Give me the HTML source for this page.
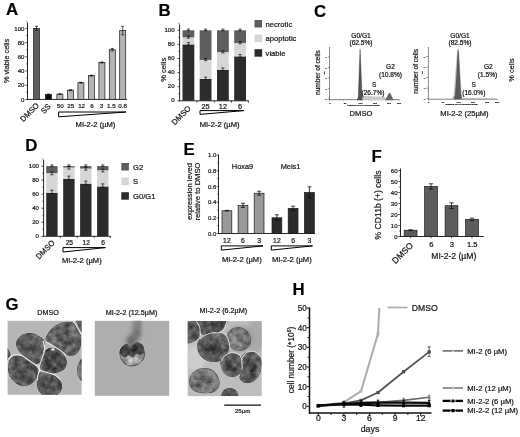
<!DOCTYPE html>
<html lang="en"><head><meta charset="utf-8"><title>Figure</title>
<style>
html,body{margin:0;padding:0;background:#fff;}
body{width:520px;height:437px;overflow:hidden;}
svg{display:block;filter:blur(0.35px);font-family:'Liberation Sans', sans-serif;}
text{stroke:#222;stroke-width:0.22px;}
</style></head><body>
<svg width="520" height="437" viewBox="0 0 520 437">
<rect width="520" height="437" fill="#fff"/>
<text x="6.00" y="15.20" font-size="16.8" text-anchor="start" fill="#000" font-weight="bold">A</text>
<line x1="27.50" y1="22.50" x2="27.50" y2="99.80" stroke="#111" stroke-width="0.9"/>
<line x1="27.10" y1="99.40" x2="127.00" y2="99.40" stroke="#111" stroke-width="0.9"/>
<line x1="25.30" y1="99.40" x2="27.50" y2="99.40" stroke="#111" stroke-width="0.7"/>
<text x="24.50" y="101.58" font-size="6.1" text-anchor="end" fill="#111">0</text>
<line x1="25.30" y1="85.20" x2="27.50" y2="85.20" stroke="#111" stroke-width="0.7"/>
<text x="24.50" y="87.38" font-size="6.1" text-anchor="end" fill="#111">20</text>
<line x1="25.30" y1="71.00" x2="27.50" y2="71.00" stroke="#111" stroke-width="0.7"/>
<text x="24.50" y="73.18" font-size="6.1" text-anchor="end" fill="#111">40</text>
<line x1="25.30" y1="56.80" x2="27.50" y2="56.80" stroke="#111" stroke-width="0.7"/>
<text x="24.50" y="58.98" font-size="6.1" text-anchor="end" fill="#111">60</text>
<line x1="25.30" y1="42.60" x2="27.50" y2="42.60" stroke="#111" stroke-width="0.7"/>
<text x="24.50" y="44.78" font-size="6.1" text-anchor="end" fill="#111">80</text>
<line x1="25.30" y1="28.40" x2="27.50" y2="28.40" stroke="#111" stroke-width="0.7"/>
<text x="24.50" y="30.58" font-size="6.1" text-anchor="end" fill="#111">100</text>
<line x1="26.20" y1="92.30" x2="27.50" y2="92.30" stroke="#111" stroke-width="0.6"/>
<line x1="26.20" y1="78.10" x2="27.50" y2="78.10" stroke="#111" stroke-width="0.6"/>
<line x1="26.20" y1="63.90" x2="27.50" y2="63.90" stroke="#111" stroke-width="0.6"/>
<line x1="26.20" y1="49.70" x2="27.50" y2="49.70" stroke="#111" stroke-width="0.6"/>
<line x1="26.20" y1="35.50" x2="27.50" y2="35.50" stroke="#111" stroke-width="0.6"/>
<line x1="26.20" y1="21.30" x2="27.50" y2="21.30" stroke="#111" stroke-width="0.6"/>
<text transform="translate(6.80 61.00) rotate(-90)" x="0" y="2.61" font-size="7.3" text-anchor="middle" fill="#222">% viable cells</text>
<rect x="33.50" y="28.40" width="6.00" height="71.00" fill="#5e5e5e" stroke="#1a1a1a" stroke-width="0.7"/>
<line x1="36.50" y1="26.27" x2="36.50" y2="30.53" stroke="#111" stroke-width="0.7"/>
<line x1="35.00" y1="26.27" x2="38.00" y2="26.27" stroke="#111" stroke-width="0.7"/>
<line x1="35.00" y1="30.53" x2="38.00" y2="30.53" stroke="#111" stroke-width="0.7"/>
<rect x="45.40" y="94.43" width="6.00" height="4.97" fill="#0a0a0a" stroke="#1a1a1a" stroke-width="0.7"/>
<line x1="48.40" y1="94.00" x2="48.40" y2="94.86" stroke="#111" stroke-width="0.7"/>
<line x1="46.90" y1="94.00" x2="49.90" y2="94.00" stroke="#111" stroke-width="0.7"/>
<line x1="46.90" y1="94.86" x2="49.90" y2="94.86" stroke="#111" stroke-width="0.7"/>
<rect x="56.90" y="94.08" width="6.00" height="5.32" fill="#b4b4b4" stroke="#1a1a1a" stroke-width="0.7"/>
<line x1="59.90" y1="93.72" x2="59.90" y2="94.43" stroke="#111" stroke-width="0.7"/>
<line x1="58.40" y1="93.72" x2="61.40" y2="93.72" stroke="#111" stroke-width="0.7"/>
<line x1="58.40" y1="94.43" x2="61.40" y2="94.43" stroke="#111" stroke-width="0.7"/>
<text x="60.20" y="108.12" font-size="6.2" text-anchor="middle" fill="#111">50</text>
<rect x="67.60" y="90.17" width="6.00" height="9.23" fill="#b4b4b4" stroke="#1a1a1a" stroke-width="0.7"/>
<line x1="70.60" y1="89.67" x2="70.60" y2="90.67" stroke="#111" stroke-width="0.7"/>
<line x1="69.10" y1="89.67" x2="72.10" y2="89.67" stroke="#111" stroke-width="0.7"/>
<line x1="69.10" y1="90.67" x2="72.10" y2="90.67" stroke="#111" stroke-width="0.7"/>
<text x="70.80" y="108.12" font-size="6.2" text-anchor="middle" fill="#111">25</text>
<rect x="77.90" y="82.72" width="6.00" height="16.68" fill="#b4b4b4" stroke="#1a1a1a" stroke-width="0.7"/>
<line x1="80.90" y1="82.29" x2="80.90" y2="83.14" stroke="#111" stroke-width="0.7"/>
<line x1="79.40" y1="82.29" x2="82.40" y2="82.29" stroke="#111" stroke-width="0.7"/>
<line x1="79.40" y1="83.14" x2="82.40" y2="83.14" stroke="#111" stroke-width="0.7"/>
<text x="81.60" y="108.12" font-size="6.2" text-anchor="middle" fill="#111">12</text>
<rect x="88.40" y="75.62" width="6.00" height="23.79" fill="#b4b4b4" stroke="#1a1a1a" stroke-width="0.7"/>
<line x1="91.40" y1="75.12" x2="91.40" y2="76.11" stroke="#111" stroke-width="0.7"/>
<line x1="89.90" y1="75.12" x2="92.90" y2="75.12" stroke="#111" stroke-width="0.7"/>
<line x1="89.90" y1="76.11" x2="92.90" y2="76.11" stroke="#111" stroke-width="0.7"/>
<text x="92.00" y="108.12" font-size="6.2" text-anchor="middle" fill="#111">6</text>
<rect x="98.90" y="62.48" width="6.00" height="36.92" fill="#b4b4b4" stroke="#1a1a1a" stroke-width="0.7"/>
<line x1="101.90" y1="61.98" x2="101.90" y2="62.98" stroke="#111" stroke-width="0.7"/>
<line x1="100.40" y1="61.98" x2="103.40" y2="61.98" stroke="#111" stroke-width="0.7"/>
<line x1="100.40" y1="62.98" x2="103.40" y2="62.98" stroke="#111" stroke-width="0.7"/>
<text x="101.50" y="108.12" font-size="6.2" text-anchor="middle" fill="#111">3</text>
<rect x="109.30" y="49.70" width="6.00" height="49.70" fill="#b4b4b4" stroke="#1a1a1a" stroke-width="0.7"/>
<line x1="112.30" y1="48.42" x2="112.30" y2="50.98" stroke="#111" stroke-width="0.7"/>
<line x1="110.80" y1="48.42" x2="113.80" y2="48.42" stroke="#111" stroke-width="0.7"/>
<line x1="110.80" y1="50.98" x2="113.80" y2="50.98" stroke="#111" stroke-width="0.7"/>
<text x="111.30" y="108.12" font-size="6.2" text-anchor="middle" fill="#111">1.5</text>
<rect x="119.70" y="30.53" width="6.00" height="68.87" fill="#b4b4b4" stroke="#1a1a1a" stroke-width="0.7"/>
<line x1="122.70" y1="26.27" x2="122.70" y2="34.79" stroke="#111" stroke-width="0.7"/>
<line x1="121.20" y1="26.27" x2="124.20" y2="26.27" stroke="#111" stroke-width="0.7"/>
<line x1="121.20" y1="34.79" x2="124.20" y2="34.79" stroke="#111" stroke-width="0.7"/>
<text x="122.60" y="108.12" font-size="6.2" text-anchor="middle" fill="#111">0.8</text>
<text transform="translate(37.60 104.00) rotate(-45)" x="0" y="2.76" font-size="7.7" text-anchor="end" fill="#111">DMSO</text>
<text transform="translate(49.20 105.00) rotate(-45)" x="0" y="2.76" font-size="7.7" text-anchor="end" fill="#111">SS</text>
<path d="M58.60 112.00 L126.00 112.00 L58.60 116.80 Z" fill="#fff" stroke="#000" stroke-width="1.0" stroke-linejoin="miter"/>
<text x="95.50" y="126.92" font-size="7.6" text-anchor="middle" fill="#111">MI-2-2 (µM)</text>
<text x="158.60" y="15.50" font-size="16.8" text-anchor="start" fill="#000" font-weight="bold">B</text>
<line x1="179.60" y1="24.50" x2="179.60" y2="101.20" stroke="#111" stroke-width="0.9"/>
<line x1="179.20" y1="100.80" x2="248.80" y2="100.80" stroke="#111" stroke-width="0.9"/>
<line x1="177.40" y1="100.80" x2="179.60" y2="100.80" stroke="#111" stroke-width="0.7"/>
<text x="174.60" y="102.28" font-size="6.1" text-anchor="end" fill="#111">0</text>
<line x1="177.40" y1="86.70" x2="179.60" y2="86.70" stroke="#111" stroke-width="0.7"/>
<text x="174.60" y="88.18" font-size="6.1" text-anchor="end" fill="#111">20</text>
<line x1="177.40" y1="72.60" x2="179.60" y2="72.60" stroke="#111" stroke-width="0.7"/>
<text x="174.60" y="74.08" font-size="6.1" text-anchor="end" fill="#111">40</text>
<line x1="177.40" y1="58.50" x2="179.60" y2="58.50" stroke="#111" stroke-width="0.7"/>
<text x="174.60" y="59.98" font-size="6.1" text-anchor="end" fill="#111">60</text>
<line x1="177.40" y1="44.40" x2="179.60" y2="44.40" stroke="#111" stroke-width="0.7"/>
<text x="174.60" y="45.88" font-size="6.1" text-anchor="end" fill="#111">80</text>
<line x1="177.40" y1="30.30" x2="179.60" y2="30.30" stroke="#111" stroke-width="0.7"/>
<text x="174.60" y="31.78" font-size="6.1" text-anchor="end" fill="#111">100</text>
<line x1="178.30" y1="93.75" x2="179.60" y2="93.75" stroke="#111" stroke-width="0.6"/>
<line x1="178.30" y1="79.65" x2="179.60" y2="79.65" stroke="#111" stroke-width="0.6"/>
<line x1="178.30" y1="65.55" x2="179.60" y2="65.55" stroke="#111" stroke-width="0.6"/>
<line x1="178.30" y1="51.45" x2="179.60" y2="51.45" stroke="#111" stroke-width="0.6"/>
<line x1="178.30" y1="37.35" x2="179.60" y2="37.35" stroke="#111" stroke-width="0.6"/>
<line x1="178.30" y1="23.25" x2="179.60" y2="23.25" stroke="#111" stroke-width="0.6"/>
<text transform="translate(163.00 69.80) rotate(-90)" x="0" y="2.72" font-size="7.6" text-anchor="middle" fill="#222">% cells</text>
<rect x="182.50" y="44.40" width="11.80" height="56.40" fill="#2b2b2b"/>
<rect x="182.50" y="37.35" width="11.80" height="7.05" fill="#d6d6d6"/>
<rect x="182.50" y="30.30" width="11.80" height="7.05" fill="#5e5e5e"/>
<line x1="188.40" y1="42.60" x2="188.40" y2="45.20" stroke="#111" stroke-width="0.7"/>
<line x1="186.80" y1="42.60" x2="190.00" y2="42.60" stroke="#111" stroke-width="0.7"/>
<line x1="186.80" y1="45.20" x2="190.00" y2="45.20" stroke="#111" stroke-width="0.7"/>
<line x1="188.40" y1="35.95" x2="188.40" y2="38.15" stroke="#111" stroke-width="0.7"/>
<line x1="186.80" y1="35.95" x2="190.00" y2="35.95" stroke="#111" stroke-width="0.7"/>
<line x1="186.80" y1="38.15" x2="190.00" y2="38.15" stroke="#111" stroke-width="0.7"/>
<line x1="188.40" y1="29.10" x2="188.40" y2="30.80" stroke="#111" stroke-width="0.7"/>
<line x1="186.80" y1="29.10" x2="190.00" y2="29.10" stroke="#111" stroke-width="0.7"/>
<line x1="186.80" y1="30.80" x2="190.00" y2="30.80" stroke="#111" stroke-width="0.7"/>
<rect x="199.70" y="78.94" width="11.80" height="21.86" fill="#2b2b2b"/>
<rect x="199.70" y="59.91" width="11.80" height="19.04" fill="#d6d6d6"/>
<rect x="199.70" y="30.30" width="11.80" height="29.61" fill="#5e5e5e"/>
<line x1="205.60" y1="77.14" x2="205.60" y2="79.74" stroke="#111" stroke-width="0.7"/>
<line x1="204.00" y1="77.14" x2="207.20" y2="77.14" stroke="#111" stroke-width="0.7"/>
<line x1="204.00" y1="79.74" x2="207.20" y2="79.74" stroke="#111" stroke-width="0.7"/>
<line x1="205.60" y1="58.51" x2="205.60" y2="60.71" stroke="#111" stroke-width="0.7"/>
<line x1="204.00" y1="58.51" x2="207.20" y2="58.51" stroke="#111" stroke-width="0.7"/>
<line x1="204.00" y1="60.71" x2="207.20" y2="60.71" stroke="#111" stroke-width="0.7"/>
<line x1="205.60" y1="29.10" x2="205.60" y2="30.80" stroke="#111" stroke-width="0.7"/>
<line x1="204.00" y1="29.10" x2="207.20" y2="29.10" stroke="#111" stroke-width="0.7"/>
<line x1="204.00" y1="30.80" x2="207.20" y2="30.80" stroke="#111" stroke-width="0.7"/>
<text x="205.60" y="108.55" font-size="7.4" text-anchor="middle" fill="#111">25</text>
<rect x="217.00" y="69.78" width="11.80" height="31.02" fill="#2b2b2b"/>
<rect x="217.00" y="52.16" width="11.80" height="17.62" fill="#d6d6d6"/>
<rect x="217.00" y="30.30" width="11.80" height="21.86" fill="#5e5e5e"/>
<line x1="222.90" y1="67.98" x2="222.90" y2="70.58" stroke="#111" stroke-width="0.7"/>
<line x1="221.30" y1="67.98" x2="224.50" y2="67.98" stroke="#111" stroke-width="0.7"/>
<line x1="221.30" y1="70.58" x2="224.50" y2="70.58" stroke="#111" stroke-width="0.7"/>
<line x1="222.90" y1="50.76" x2="222.90" y2="52.95" stroke="#111" stroke-width="0.7"/>
<line x1="221.30" y1="50.76" x2="224.50" y2="50.76" stroke="#111" stroke-width="0.7"/>
<line x1="221.30" y1="52.95" x2="224.50" y2="52.95" stroke="#111" stroke-width="0.7"/>
<line x1="222.90" y1="29.10" x2="222.90" y2="30.80" stroke="#111" stroke-width="0.7"/>
<line x1="221.30" y1="29.10" x2="224.50" y2="29.10" stroke="#111" stroke-width="0.7"/>
<line x1="221.30" y1="30.80" x2="224.50" y2="30.80" stroke="#111" stroke-width="0.7"/>
<text x="222.90" y="108.55" font-size="7.4" text-anchor="middle" fill="#111">12</text>
<rect x="234.20" y="56.38" width="11.80" height="44.41" fill="#2b2b2b"/>
<rect x="234.20" y="42.99" width="11.80" height="13.39" fill="#d6d6d6"/>
<rect x="234.20" y="30.30" width="11.80" height="12.69" fill="#5e5e5e"/>
<line x1="240.10" y1="54.59" x2="240.10" y2="57.18" stroke="#111" stroke-width="0.7"/>
<line x1="238.50" y1="54.59" x2="241.70" y2="54.59" stroke="#111" stroke-width="0.7"/>
<line x1="238.50" y1="57.18" x2="241.70" y2="57.18" stroke="#111" stroke-width="0.7"/>
<line x1="240.10" y1="41.59" x2="240.10" y2="43.79" stroke="#111" stroke-width="0.7"/>
<line x1="238.50" y1="41.59" x2="241.70" y2="41.59" stroke="#111" stroke-width="0.7"/>
<line x1="238.50" y1="43.79" x2="241.70" y2="43.79" stroke="#111" stroke-width="0.7"/>
<line x1="240.10" y1="29.10" x2="240.10" y2="30.80" stroke="#111" stroke-width="0.7"/>
<line x1="238.50" y1="29.10" x2="241.70" y2="29.10" stroke="#111" stroke-width="0.7"/>
<line x1="238.50" y1="30.80" x2="241.70" y2="30.80" stroke="#111" stroke-width="0.7"/>
<text x="240.10" y="108.55" font-size="7.4" text-anchor="middle" fill="#111">6</text>
<text transform="translate(189.40 106.90) rotate(-45)" x="0" y="2.79" font-size="7.8" text-anchor="end" fill="#111">DMSO</text>
<line x1="196.90" y1="100.80" x2="196.90" y2="102.60" stroke="#111" stroke-width="0.8"/>
<line x1="214.40" y1="100.80" x2="214.40" y2="102.60" stroke="#111" stroke-width="0.8"/>
<line x1="231.50" y1="100.80" x2="231.50" y2="102.60" stroke="#111" stroke-width="0.8"/>
<line x1="248.40" y1="100.80" x2="248.40" y2="102.60" stroke="#111" stroke-width="0.8"/>
<path d="M200.00 110.60 L243.80 110.60 L200.00 114.40 Z" fill="#fff" stroke="#000" stroke-width="1.0" stroke-linejoin="miter"/>
<text x="219.60" y="126.52" font-size="7.6" text-anchor="middle" fill="#111">MI-2-2 (µM)</text>
<rect x="254.50" y="20.00" width="7.60" height="7.50" fill="#5e5e5e"/>
<text x="265.60" y="26.62" font-size="7.6" text-anchor="start" fill="#111">necrotic</text>
<rect x="254.50" y="34.60" width="7.60" height="7.50" fill="#d6d6d6"/>
<text x="265.60" y="41.22" font-size="7.6" text-anchor="start" fill="#111">apoptotic</text>
<rect x="254.50" y="49.20" width="7.60" height="7.50" fill="#2b2b2b"/>
<text x="265.60" y="55.82" font-size="7.6" text-anchor="start" fill="#111">viable</text>
<text x="314.00" y="16.60" font-size="16.8" text-anchor="start" fill="#000" font-weight="bold">C</text>
<line x1="329.50" y1="47.00" x2="329.50" y2="99.90" stroke="#3a3a3a" stroke-width="0.6"/>
<line x1="329.20" y1="99.60" x2="399.50" y2="99.60" stroke="#3a3a3a" stroke-width="0.6"/>
<line x1="329.50" y1="99.60" x2="329.50" y2="100.80" stroke="#444" stroke-width="0.35"/>
<line x1="332.30" y1="99.60" x2="332.30" y2="100.30" stroke="#444" stroke-width="0.35"/>
<line x1="335.10" y1="99.60" x2="335.10" y2="100.30" stroke="#444" stroke-width="0.35"/>
<line x1="337.90" y1="99.60" x2="337.90" y2="100.30" stroke="#444" stroke-width="0.35"/>
<line x1="340.70" y1="99.60" x2="340.70" y2="100.30" stroke="#444" stroke-width="0.35"/>
<line x1="343.50" y1="99.60" x2="343.50" y2="100.80" stroke="#444" stroke-width="0.35"/>
<line x1="346.30" y1="99.60" x2="346.30" y2="100.30" stroke="#444" stroke-width="0.35"/>
<line x1="349.10" y1="99.60" x2="349.10" y2="100.30" stroke="#444" stroke-width="0.35"/>
<line x1="351.90" y1="99.60" x2="351.90" y2="100.30" stroke="#444" stroke-width="0.35"/>
<line x1="354.70" y1="99.60" x2="354.70" y2="100.30" stroke="#444" stroke-width="0.35"/>
<line x1="357.50" y1="99.60" x2="357.50" y2="100.80" stroke="#444" stroke-width="0.35"/>
<line x1="360.30" y1="99.60" x2="360.30" y2="100.30" stroke="#444" stroke-width="0.35"/>
<line x1="363.10" y1="99.60" x2="363.10" y2="100.30" stroke="#444" stroke-width="0.35"/>
<line x1="365.90" y1="99.60" x2="365.90" y2="100.30" stroke="#444" stroke-width="0.35"/>
<line x1="368.70" y1="99.60" x2="368.70" y2="100.30" stroke="#444" stroke-width="0.35"/>
<line x1="371.50" y1="99.60" x2="371.50" y2="100.80" stroke="#444" stroke-width="0.35"/>
<line x1="374.30" y1="99.60" x2="374.30" y2="100.30" stroke="#444" stroke-width="0.35"/>
<line x1="377.10" y1="99.60" x2="377.10" y2="100.30" stroke="#444" stroke-width="0.35"/>
<line x1="379.90" y1="99.60" x2="379.90" y2="100.30" stroke="#444" stroke-width="0.35"/>
<line x1="382.70" y1="99.60" x2="382.70" y2="100.30" stroke="#444" stroke-width="0.35"/>
<line x1="385.50" y1="99.60" x2="385.50" y2="100.80" stroke="#444" stroke-width="0.35"/>
<line x1="388.30" y1="99.60" x2="388.30" y2="100.30" stroke="#444" stroke-width="0.35"/>
<line x1="391.10" y1="99.60" x2="391.10" y2="100.30" stroke="#444" stroke-width="0.35"/>
<line x1="393.90" y1="99.60" x2="393.90" y2="100.30" stroke="#444" stroke-width="0.35"/>
<line x1="396.70" y1="99.60" x2="396.70" y2="100.30" stroke="#444" stroke-width="0.35"/>
<line x1="399.50" y1="99.60" x2="399.50" y2="100.80" stroke="#444" stroke-width="0.35"/>
<path d="M357 100 L358.3 97 L359.6 60 L360.1 49.3 L360.7 62 L362 96 L363 100 Z" fill="#555" stroke="#333" stroke-width="0.4"/>
<path d="M362.5 100 L362.8 96.5 L366 96 L375 96.6 L385 96.8 L386.5 100 Z" fill="#c8c8c8"/>
<path d="M385.3 100 L386.8 97.5 L388.6 94 L389.6 92.8 L390.8 94.5 L392.3 98 L393.5 100 Z" fill="#666" stroke="#444" stroke-width="0.3"/>
<text transform="translate(317.50 72.60) rotate(-90)" x="0" y="2.36" font-size="6.6" text-anchor="middle" fill="#222">number of cells</text>
<line x1="327.80" y1="57.00" x2="329.50" y2="57.00" stroke="#333" stroke-width="0.5"/>
<text x="326.00" y="58.07" font-size="3" text-anchor="middle" fill="#555">–</text>
<line x1="327.80" y1="67.50" x2="329.50" y2="67.50" stroke="#333" stroke-width="0.5"/>
<text x="326.00" y="68.57" font-size="3" text-anchor="middle" fill="#555">–</text>
<line x1="327.80" y1="78.00" x2="329.50" y2="78.00" stroke="#333" stroke-width="0.5"/>
<text x="326.00" y="79.07" font-size="3" text-anchor="middle" fill="#555">–</text>
<line x1="327.80" y1="88.70" x2="329.50" y2="88.70" stroke="#333" stroke-width="0.5"/>
<text x="326.00" y="89.77" font-size="3" text-anchor="middle" fill="#555">–</text>
<line x1="327.80" y1="99.00" x2="329.50" y2="99.00" stroke="#333" stroke-width="0.5"/>
<text x="326.00" y="100.07" font-size="3" text-anchor="middle" fill="#555">–</text>
<text transform="translate(324.20 73.00) rotate(-90)" x="0" y="0.79" font-size="2.2" text-anchor="middle" fill="#444">▪▪▪▪</text>
<text x="330.00" y="103.86" font-size="2.4" text-anchor="middle" fill="#444">0</text>
<text x="345.00" y="103.86" font-size="2.4" text-anchor="middle" fill="#444">50</text>
<text x="360.50" y="103.86" font-size="2.4" text-anchor="middle" fill="#444">100</text>
<text x="375.00" y="103.86" font-size="2.4" text-anchor="middle" fill="#444">150</text>
<text x="389.00" y="103.86" font-size="2.4" text-anchor="middle" fill="#444">200</text>
<text x="399.00" y="103.86" font-size="2.4" text-anchor="middle" fill="#444">250</text>
<text x="363.50" y="106.05" font-size="2.1" text-anchor="middle" fill="#555">Channels (FL2-A-Propidium Iodide)</text>
<text x="361.00" y="38.16" font-size="6.6" text-anchor="middle" fill="#111">G0/G1</text>
<text x="361.00" y="45.46" font-size="6.6" text-anchor="middle" fill="#111">(62.5%)</text>
<text x="390.50" y="68.66" font-size="6.6" text-anchor="middle" fill="#111">G2</text>
<text x="390.50" y="76.66" font-size="6.6" text-anchor="middle" fill="#111">(10.8%)</text>
<text x="374.30" y="87.36" font-size="6.6" text-anchor="middle" fill="#111">S</text>
<text x="373.00" y="94.96" font-size="6.6" text-anchor="middle" fill="#111">(26.7%)</text>
<text x="361.00" y="116.02" font-size="7.6" text-anchor="middle" fill="#111">DMSO</text>
<line x1="428.40" y1="47.00" x2="428.40" y2="99.50" stroke="#3a3a3a" stroke-width="0.6"/>
<line x1="428.10" y1="99.20" x2="497.50" y2="99.20" stroke="#3a3a3a" stroke-width="0.6"/>
<line x1="428.40" y1="99.20" x2="428.40" y2="100.40" stroke="#444" stroke-width="0.35"/>
<line x1="431.16" y1="99.20" x2="431.16" y2="99.90" stroke="#444" stroke-width="0.35"/>
<line x1="433.93" y1="99.20" x2="433.93" y2="99.90" stroke="#444" stroke-width="0.35"/>
<line x1="436.69" y1="99.20" x2="436.69" y2="99.90" stroke="#444" stroke-width="0.35"/>
<line x1="439.46" y1="99.20" x2="439.46" y2="99.90" stroke="#444" stroke-width="0.35"/>
<line x1="442.22" y1="99.20" x2="442.22" y2="100.40" stroke="#444" stroke-width="0.35"/>
<line x1="444.98" y1="99.20" x2="444.98" y2="99.90" stroke="#444" stroke-width="0.35"/>
<line x1="447.75" y1="99.20" x2="447.75" y2="99.90" stroke="#444" stroke-width="0.35"/>
<line x1="450.51" y1="99.20" x2="450.51" y2="99.90" stroke="#444" stroke-width="0.35"/>
<line x1="453.28" y1="99.20" x2="453.28" y2="99.90" stroke="#444" stroke-width="0.35"/>
<line x1="456.04" y1="99.20" x2="456.04" y2="100.40" stroke="#444" stroke-width="0.35"/>
<line x1="458.80" y1="99.20" x2="458.80" y2="99.90" stroke="#444" stroke-width="0.35"/>
<line x1="461.57" y1="99.20" x2="461.57" y2="99.90" stroke="#444" stroke-width="0.35"/>
<line x1="464.33" y1="99.20" x2="464.33" y2="99.90" stroke="#444" stroke-width="0.35"/>
<line x1="467.10" y1="99.20" x2="467.10" y2="99.90" stroke="#444" stroke-width="0.35"/>
<line x1="469.86" y1="99.20" x2="469.86" y2="100.40" stroke="#444" stroke-width="0.35"/>
<line x1="472.62" y1="99.20" x2="472.62" y2="99.90" stroke="#444" stroke-width="0.35"/>
<line x1="475.39" y1="99.20" x2="475.39" y2="99.90" stroke="#444" stroke-width="0.35"/>
<line x1="478.15" y1="99.20" x2="478.15" y2="99.90" stroke="#444" stroke-width="0.35"/>
<line x1="480.92" y1="99.20" x2="480.92" y2="99.90" stroke="#444" stroke-width="0.35"/>
<line x1="483.68" y1="99.20" x2="483.68" y2="100.40" stroke="#444" stroke-width="0.35"/>
<line x1="486.44" y1="99.20" x2="486.44" y2="99.90" stroke="#444" stroke-width="0.35"/>
<line x1="489.21" y1="99.20" x2="489.21" y2="99.90" stroke="#444" stroke-width="0.35"/>
<line x1="491.97" y1="99.20" x2="491.97" y2="99.90" stroke="#444" stroke-width="0.35"/>
<line x1="494.74" y1="99.20" x2="494.74" y2="99.90" stroke="#444" stroke-width="0.35"/>
<line x1="497.50" y1="99.20" x2="497.50" y2="100.40" stroke="#444" stroke-width="0.35"/>
<path d="M452.3 99.3 L454 95 L456 70 L457.4 51 L458 48.8 L458.8 52 L460 75 L461.3 94 L462.6 99.3 Z" fill="#c4c4c4" stroke="#aaa" stroke-width="0.5"/>
<path d="M453.6 99.3 L455 95 L456.6 72 L457.6 52 L458.1 49.2 L458.8 53 L460 77 L461 94 L462 99.3 Z" fill="#5a5a5a"/>
<path d="M462 99.3 L462.5 97.8 L470 98 L485 98.3 L496 98.6 L496 99.3 Z" fill="#bbb"/>
<text transform="translate(415.50 71.30) rotate(-90)" x="0" y="2.36" font-size="6.6" text-anchor="middle" fill="#222">number of cells</text>
<line x1="426.30" y1="56.50" x2="428.00" y2="56.50" stroke="#333" stroke-width="0.5"/>
<text x="424.60" y="57.57" font-size="3" text-anchor="middle" fill="#555">–</text>
<line x1="426.30" y1="67.00" x2="428.00" y2="67.00" stroke="#333" stroke-width="0.5"/>
<text x="424.60" y="68.07" font-size="3" text-anchor="middle" fill="#555">–</text>
<line x1="426.30" y1="77.50" x2="428.00" y2="77.50" stroke="#333" stroke-width="0.5"/>
<text x="424.60" y="78.57" font-size="3" text-anchor="middle" fill="#555">–</text>
<line x1="426.30" y1="88.20" x2="428.00" y2="88.20" stroke="#333" stroke-width="0.5"/>
<text x="424.60" y="89.27" font-size="3" text-anchor="middle" fill="#555">–</text>
<line x1="426.30" y1="98.60" x2="428.00" y2="98.60" stroke="#333" stroke-width="0.5"/>
<text x="424.60" y="99.67" font-size="3" text-anchor="middle" fill="#555">–</text>
<text transform="translate(422.60 72.50) rotate(-90)" x="0" y="0.79" font-size="2.2" text-anchor="middle" fill="#444">▪▪▪▪</text>
<text x="428.50" y="103.26" font-size="2.4" text-anchor="middle" fill="#444">0</text>
<text x="443.00" y="103.26" font-size="2.4" text-anchor="middle" fill="#444">50</text>
<text x="458.50" y="103.26" font-size="2.4" text-anchor="middle" fill="#444">100</text>
<text x="473.00" y="103.26" font-size="2.4" text-anchor="middle" fill="#444">150</text>
<text x="487.00" y="103.26" font-size="2.4" text-anchor="middle" fill="#444">200</text>
<text x="497.00" y="103.26" font-size="2.4" text-anchor="middle" fill="#444">250</text>
<text x="461.50" y="105.45" font-size="2.1" text-anchor="middle" fill="#555">Channels (FL2-A-Propidium Iodide)</text>
<text x="460.00" y="38.16" font-size="6.6" text-anchor="middle" fill="#111">G0/G1</text>
<text x="460.00" y="45.46" font-size="6.6" text-anchor="middle" fill="#111">(82.5%)</text>
<text x="488.30" y="68.66" font-size="6.6" text-anchor="middle" fill="#111">G2</text>
<text x="487.50" y="76.66" font-size="6.6" text-anchor="middle" fill="#111">(1.5%)</text>
<text x="473.80" y="87.36" font-size="6.6" text-anchor="middle" fill="#111">S</text>
<text x="473.80" y="95.36" font-size="6.6" text-anchor="middle" fill="#111">(16.0%)</text>
<text x="464.50" y="115.82" font-size="7.6" text-anchor="middle" fill="#111">MI-2-2 (25µM)</text>
<text transform="translate(511.30 70.00) rotate(-90)" x="0" y="2.65" font-size="7.4" text-anchor="middle" fill="#222">% cells</text>
<text x="25.30" y="150.90" font-size="16.8" text-anchor="start" fill="#000" font-weight="bold">D</text>
<line x1="43.60" y1="160.00" x2="43.60" y2="236.70" stroke="#111" stroke-width="0.9"/>
<line x1="43.20" y1="236.30" x2="110.80" y2="236.30" stroke="#111" stroke-width="0.9"/>
<line x1="41.40" y1="236.30" x2="43.60" y2="236.30" stroke="#111" stroke-width="0.7"/>
<text x="39.00" y="238.48" font-size="6.1" text-anchor="end" fill="#111">0</text>
<line x1="41.40" y1="222.26" x2="43.60" y2="222.26" stroke="#111" stroke-width="0.7"/>
<text x="39.00" y="224.44" font-size="6.1" text-anchor="end" fill="#111">20</text>
<line x1="41.40" y1="208.22" x2="43.60" y2="208.22" stroke="#111" stroke-width="0.7"/>
<text x="39.00" y="210.40" font-size="6.1" text-anchor="end" fill="#111">40</text>
<line x1="41.40" y1="194.18" x2="43.60" y2="194.18" stroke="#111" stroke-width="0.7"/>
<text x="39.00" y="196.36" font-size="6.1" text-anchor="end" fill="#111">60</text>
<line x1="41.40" y1="180.14" x2="43.60" y2="180.14" stroke="#111" stroke-width="0.7"/>
<text x="39.00" y="182.32" font-size="6.1" text-anchor="end" fill="#111">80</text>
<line x1="41.40" y1="166.10" x2="43.60" y2="166.10" stroke="#111" stroke-width="0.7"/>
<text x="39.00" y="168.28" font-size="6.1" text-anchor="end" fill="#111">100</text>
<line x1="42.30" y1="229.28" x2="43.60" y2="229.28" stroke="#111" stroke-width="0.6"/>
<line x1="42.30" y1="215.24" x2="43.60" y2="215.24" stroke="#111" stroke-width="0.6"/>
<line x1="42.30" y1="201.20" x2="43.60" y2="201.20" stroke="#111" stroke-width="0.6"/>
<line x1="42.30" y1="187.16" x2="43.60" y2="187.16" stroke="#111" stroke-width="0.6"/>
<line x1="42.30" y1="173.12" x2="43.60" y2="173.12" stroke="#111" stroke-width="0.6"/>
<line x1="42.30" y1="159.08" x2="43.60" y2="159.08" stroke="#111" stroke-width="0.6"/>
<rect x="46.20" y="192.78" width="11.40" height="43.52" fill="#2b2b2b"/>
<rect x="46.20" y="173.12" width="11.40" height="19.66" fill="#d6d6d6"/>
<rect x="46.20" y="166.10" width="11.40" height="7.02" fill="#5e5e5e"/>
<line x1="51.90" y1="190.18" x2="51.90" y2="193.58" stroke="#111" stroke-width="0.7"/>
<line x1="50.30" y1="190.18" x2="53.50" y2="190.18" stroke="#111" stroke-width="0.7"/>
<line x1="50.30" y1="193.58" x2="53.50" y2="193.58" stroke="#111" stroke-width="0.7"/>
<line x1="51.90" y1="171.92" x2="51.90" y2="174.72" stroke="#111" stroke-width="0.7"/>
<line x1="50.30" y1="171.92" x2="53.50" y2="171.92" stroke="#111" stroke-width="0.7"/>
<line x1="50.30" y1="174.72" x2="53.50" y2="174.72" stroke="#111" stroke-width="0.7"/>
<line x1="51.90" y1="164.90" x2="51.90" y2="166.60" stroke="#111" stroke-width="0.7"/>
<line x1="50.30" y1="164.90" x2="53.50" y2="164.90" stroke="#111" stroke-width="0.7"/>
<line x1="50.30" y1="166.60" x2="53.50" y2="166.60" stroke="#111" stroke-width="0.7"/>
<rect x="63.20" y="178.74" width="11.40" height="57.56" fill="#2b2b2b"/>
<rect x="63.20" y="167.50" width="11.40" height="11.23" fill="#d6d6d6"/>
<rect x="63.20" y="166.10" width="11.40" height="1.40" fill="#5e5e5e"/>
<line x1="68.90" y1="176.14" x2="68.90" y2="179.54" stroke="#111" stroke-width="0.7"/>
<line x1="67.30" y1="176.14" x2="70.50" y2="176.14" stroke="#111" stroke-width="0.7"/>
<line x1="67.30" y1="179.54" x2="70.50" y2="179.54" stroke="#111" stroke-width="0.7"/>
<line x1="68.90" y1="166.30" x2="68.90" y2="169.10" stroke="#111" stroke-width="0.7"/>
<line x1="67.30" y1="166.30" x2="70.50" y2="166.30" stroke="#111" stroke-width="0.7"/>
<line x1="67.30" y1="169.10" x2="70.50" y2="169.10" stroke="#111" stroke-width="0.7"/>
<line x1="68.90" y1="164.90" x2="68.90" y2="166.60" stroke="#111" stroke-width="0.7"/>
<line x1="67.30" y1="164.90" x2="70.50" y2="164.90" stroke="#111" stroke-width="0.7"/>
<line x1="67.30" y1="166.60" x2="70.50" y2="166.60" stroke="#111" stroke-width="0.7"/>
<text x="69.30" y="244.96" font-size="6.6" text-anchor="middle" fill="#111">25</text>
<rect x="80.10" y="183.65" width="11.40" height="52.65" fill="#2b2b2b"/>
<rect x="80.10" y="168.56" width="11.40" height="15.09" fill="#d6d6d6"/>
<rect x="80.10" y="166.10" width="11.40" height="2.46" fill="#5e5e5e"/>
<line x1="85.80" y1="181.05" x2="85.80" y2="184.45" stroke="#111" stroke-width="0.7"/>
<line x1="84.20" y1="181.05" x2="87.40" y2="181.05" stroke="#111" stroke-width="0.7"/>
<line x1="84.20" y1="184.45" x2="87.40" y2="184.45" stroke="#111" stroke-width="0.7"/>
<line x1="85.80" y1="167.36" x2="85.80" y2="170.16" stroke="#111" stroke-width="0.7"/>
<line x1="84.20" y1="167.36" x2="87.40" y2="167.36" stroke="#111" stroke-width="0.7"/>
<line x1="84.20" y1="170.16" x2="87.40" y2="170.16" stroke="#111" stroke-width="0.7"/>
<line x1="85.80" y1="164.90" x2="85.80" y2="166.60" stroke="#111" stroke-width="0.7"/>
<line x1="84.20" y1="164.90" x2="87.40" y2="164.90" stroke="#111" stroke-width="0.7"/>
<line x1="84.20" y1="166.60" x2="87.40" y2="166.60" stroke="#111" stroke-width="0.7"/>
<text x="86.20" y="244.96" font-size="6.6" text-anchor="middle" fill="#111">12</text>
<rect x="97.10" y="186.46" width="11.40" height="49.84" fill="#2b2b2b"/>
<rect x="97.10" y="170.31" width="11.40" height="16.15" fill="#d6d6d6"/>
<rect x="97.10" y="166.10" width="11.40" height="4.21" fill="#5e5e5e"/>
<line x1="102.80" y1="183.86" x2="102.80" y2="187.26" stroke="#111" stroke-width="0.7"/>
<line x1="101.20" y1="183.86" x2="104.40" y2="183.86" stroke="#111" stroke-width="0.7"/>
<line x1="101.20" y1="187.26" x2="104.40" y2="187.26" stroke="#111" stroke-width="0.7"/>
<line x1="102.80" y1="169.11" x2="102.80" y2="171.91" stroke="#111" stroke-width="0.7"/>
<line x1="101.20" y1="169.11" x2="104.40" y2="169.11" stroke="#111" stroke-width="0.7"/>
<line x1="101.20" y1="171.91" x2="104.40" y2="171.91" stroke="#111" stroke-width="0.7"/>
<line x1="102.80" y1="164.90" x2="102.80" y2="166.60" stroke="#111" stroke-width="0.7"/>
<line x1="101.20" y1="164.90" x2="104.40" y2="164.90" stroke="#111" stroke-width="0.7"/>
<line x1="101.20" y1="166.60" x2="104.40" y2="166.60" stroke="#111" stroke-width="0.7"/>
<text x="103.20" y="244.96" font-size="6.6" text-anchor="middle" fill="#111">6</text>
<text transform="translate(53.30 241.40) rotate(-45)" x="0" y="2.76" font-size="7.7" text-anchor="end" fill="#111">DMSO</text>
<line x1="60.30" y1="236.30" x2="60.30" y2="238.10" stroke="#111" stroke-width="0.8"/>
<line x1="77.20" y1="236.30" x2="77.20" y2="238.10" stroke="#111" stroke-width="0.8"/>
<line x1="94.20" y1="236.30" x2="94.20" y2="238.10" stroke="#111" stroke-width="0.8"/>
<line x1="110.40" y1="236.30" x2="110.40" y2="238.10" stroke="#111" stroke-width="0.8"/>
<path d="M63.00 247.60 L105.40 247.60 L63.00 252.00 Z" fill="#fff" stroke="#000" stroke-width="1.0" stroke-linejoin="miter"/>
<text x="81.80" y="263.22" font-size="7.6" text-anchor="middle" fill="#111">MI-2-2 (µM)</text>
<rect x="121.30" y="163.00" width="7.60" height="7.50" fill="#5e5e5e"/>
<text x="133.00" y="169.62" font-size="7.6" text-anchor="start" fill="#111">G2</text>
<rect x="121.30" y="177.60" width="7.60" height="7.50" fill="#d6d6d6"/>
<text x="133.00" y="184.22" font-size="7.6" text-anchor="start" fill="#111">S</text>
<rect x="121.30" y="192.20" width="7.60" height="7.50" fill="#2b2b2b"/>
<text x="133.00" y="198.82" font-size="7.6" text-anchor="start" fill="#111">G0/G1</text>
<text x="183.40" y="155.00" font-size="16.8" text-anchor="start" fill="#000" font-weight="bold">E</text>
<line x1="218.50" y1="154.60" x2="218.50" y2="233.90" stroke="#111" stroke-width="0.9"/>
<line x1="218.10" y1="233.50" x2="315.00" y2="233.50" stroke="#111" stroke-width="0.9"/>
<line x1="216.70" y1="233.50" x2="218.50" y2="233.50" stroke="#111" stroke-width="0.7"/>
<text x="216.30" y="235.65" font-size="6.0" text-anchor="end" fill="#111">0.0</text>
<line x1="216.70" y1="217.80" x2="218.50" y2="217.80" stroke="#111" stroke-width="0.7"/>
<text x="216.30" y="219.95" font-size="6.0" text-anchor="end" fill="#111">0.2</text>
<line x1="216.70" y1="202.10" x2="218.50" y2="202.10" stroke="#111" stroke-width="0.7"/>
<text x="216.30" y="204.25" font-size="6.0" text-anchor="end" fill="#111">0.4</text>
<line x1="216.70" y1="186.40" x2="218.50" y2="186.40" stroke="#111" stroke-width="0.7"/>
<text x="216.30" y="188.55" font-size="6.0" text-anchor="end" fill="#111">0.6</text>
<line x1="216.70" y1="170.70" x2="218.50" y2="170.70" stroke="#111" stroke-width="0.7"/>
<text x="216.30" y="172.85" font-size="6.0" text-anchor="end" fill="#111">0.8</text>
<line x1="216.70" y1="155.00" x2="218.50" y2="155.00" stroke="#111" stroke-width="0.7"/>
<text x="216.30" y="157.15" font-size="6.0" text-anchor="end" fill="#111">1.0</text>
<line x1="217.20" y1="225.65" x2="218.50" y2="225.65" stroke="#111" stroke-width="0.6"/>
<line x1="217.20" y1="209.95" x2="218.50" y2="209.95" stroke="#111" stroke-width="0.6"/>
<line x1="217.20" y1="194.25" x2="218.50" y2="194.25" stroke="#111" stroke-width="0.6"/>
<line x1="217.20" y1="178.55" x2="218.50" y2="178.55" stroke="#111" stroke-width="0.6"/>
<line x1="217.20" y1="162.85" x2="218.50" y2="162.85" stroke="#111" stroke-width="0.6"/>
<text transform="translate(188.80 191.50) rotate(-90)" x="0" y="2.72" font-size="7.6" text-anchor="middle" fill="#222">expression leved</text>
<text transform="translate(197.60 191.50) rotate(-90)" x="0" y="2.72" font-size="7.6" text-anchor="middle" fill="#222">relative to DMSO</text>
<rect x="222.00" y="210.74" width="9.80" height="22.76" fill="#999" stroke="#1a1a1a" stroke-width="0.7"/>
<line x1="226.90" y1="210.44" x2="226.90" y2="211.04" stroke="#111" stroke-width="0.8"/>
<line x1="224.90" y1="210.44" x2="228.90" y2="210.44" stroke="#111" stroke-width="0.8"/>
<line x1="224.90" y1="211.04" x2="228.90" y2="211.04" stroke="#111" stroke-width="0.8"/>
<text x="226.90" y="242.73" font-size="6.8" text-anchor="middle" fill="#111">12</text>
<rect x="238.10" y="205.48" width="9.80" height="28.02" fill="#999" stroke="#1a1a1a" stroke-width="0.7"/>
<line x1="243.00" y1="203.28" x2="243.00" y2="207.48" stroke="#111" stroke-width="0.8"/>
<line x1="241.00" y1="203.28" x2="245.00" y2="203.28" stroke="#111" stroke-width="0.8"/>
<line x1="241.00" y1="207.48" x2="245.00" y2="207.48" stroke="#111" stroke-width="0.8"/>
<text x="243.00" y="242.73" font-size="6.8" text-anchor="middle" fill="#111">6</text>
<rect x="254.20" y="193.23" width="9.80" height="40.27" fill="#999" stroke="#1a1a1a" stroke-width="0.7"/>
<line x1="259.10" y1="191.23" x2="259.10" y2="195.23" stroke="#111" stroke-width="0.8"/>
<line x1="257.10" y1="191.23" x2="261.10" y2="191.23" stroke="#111" stroke-width="0.8"/>
<line x1="257.10" y1="195.23" x2="261.10" y2="195.23" stroke="#111" stroke-width="0.8"/>
<text x="259.10" y="242.73" font-size="6.8" text-anchor="middle" fill="#111">3</text>
<rect x="272.00" y="217.80" width="9.80" height="15.70" fill="#2b2b2b" stroke="#1a1a1a" stroke-width="0.7"/>
<line x1="276.90" y1="214.80" x2="276.90" y2="220.40" stroke="#111" stroke-width="0.8"/>
<line x1="274.90" y1="214.80" x2="278.90" y2="214.80" stroke="#111" stroke-width="0.8"/>
<line x1="274.90" y1="220.40" x2="278.90" y2="220.40" stroke="#111" stroke-width="0.8"/>
<text x="276.90" y="242.73" font-size="6.8" text-anchor="middle" fill="#111">12</text>
<rect x="288.20" y="208.38" width="9.80" height="25.12" fill="#2b2b2b" stroke="#1a1a1a" stroke-width="0.7"/>
<line x1="293.10" y1="206.18" x2="293.10" y2="210.38" stroke="#111" stroke-width="0.8"/>
<line x1="291.10" y1="206.18" x2="295.10" y2="206.18" stroke="#111" stroke-width="0.8"/>
<line x1="291.10" y1="210.38" x2="295.10" y2="210.38" stroke="#111" stroke-width="0.8"/>
<text x="293.10" y="242.73" font-size="6.8" text-anchor="middle" fill="#111">6</text>
<rect x="304.50" y="192.52" width="9.80" height="40.98" fill="#2b2b2b" stroke="#1a1a1a" stroke-width="0.7"/>
<line x1="309.40" y1="186.82" x2="309.40" y2="198.02" stroke="#111" stroke-width="0.8"/>
<line x1="307.40" y1="186.82" x2="311.40" y2="186.82" stroke="#111" stroke-width="0.8"/>
<line x1="307.40" y1="198.02" x2="311.40" y2="198.02" stroke="#111" stroke-width="0.8"/>
<text x="309.40" y="242.73" font-size="6.8" text-anchor="middle" fill="#111">3</text>
<text x="242.50" y="169.45" font-size="7.4" text-anchor="middle" fill="#111">Hoxa9</text>
<text x="290.50" y="169.45" font-size="7.4" text-anchor="middle" fill="#111">Meis1</text>
<path d="M221.30 245.90 L263.00 245.90 L221.30 250.10 Z" fill="#fff" stroke="#000" stroke-width="1.0" stroke-linejoin="miter"/>
<path d="M271.30 245.90 L312.50 245.90 L271.30 250.10 Z" fill="#fff" stroke="#000" stroke-width="1.0" stroke-linejoin="miter"/>
<text x="241.80" y="262.22" font-size="7.6" text-anchor="middle" fill="#111">MI-2-2 (µM)</text>
<text x="291.80" y="262.22" font-size="7.6" text-anchor="middle" fill="#111">MI-2-2 (µM)</text>
<text x="371.60" y="162.00" font-size="16.8" text-anchor="start" fill="#000" font-weight="bold">F</text>
<line x1="400.50" y1="168.50" x2="400.50" y2="236.90" stroke="#111" stroke-width="0.9"/>
<line x1="400.10" y1="236.50" x2="483.80" y2="236.50" stroke="#111" stroke-width="0.9"/>
<line x1="398.30" y1="236.50" x2="400.50" y2="236.50" stroke="#111" stroke-width="0.7"/>
<text x="397.50" y="239.15" font-size="6.0" text-anchor="end" fill="#111">0</text>
<line x1="398.30" y1="225.50" x2="400.50" y2="225.50" stroke="#111" stroke-width="0.7"/>
<text x="397.50" y="228.15" font-size="6.0" text-anchor="end" fill="#111">10</text>
<line x1="398.30" y1="214.50" x2="400.50" y2="214.50" stroke="#111" stroke-width="0.7"/>
<text x="397.50" y="217.15" font-size="6.0" text-anchor="end" fill="#111">20</text>
<line x1="398.30" y1="203.50" x2="400.50" y2="203.50" stroke="#111" stroke-width="0.7"/>
<text x="397.50" y="206.15" font-size="6.0" text-anchor="end" fill="#111">30</text>
<line x1="398.30" y1="192.50" x2="400.50" y2="192.50" stroke="#111" stroke-width="0.7"/>
<text x="397.50" y="195.15" font-size="6.0" text-anchor="end" fill="#111">40</text>
<line x1="398.30" y1="181.50" x2="400.50" y2="181.50" stroke="#111" stroke-width="0.7"/>
<text x="397.50" y="184.15" font-size="6.0" text-anchor="end" fill="#111">50</text>
<line x1="398.30" y1="170.50" x2="400.50" y2="170.50" stroke="#111" stroke-width="0.7"/>
<text x="397.50" y="173.15" font-size="6.0" text-anchor="end" fill="#111">60</text>
<line x1="399.20" y1="231.00" x2="400.50" y2="231.00" stroke="#111" stroke-width="0.6"/>
<line x1="399.20" y1="220.00" x2="400.50" y2="220.00" stroke="#111" stroke-width="0.6"/>
<line x1="399.20" y1="209.00" x2="400.50" y2="209.00" stroke="#111" stroke-width="0.6"/>
<line x1="399.20" y1="198.00" x2="400.50" y2="198.00" stroke="#111" stroke-width="0.6"/>
<line x1="399.20" y1="187.00" x2="400.50" y2="187.00" stroke="#111" stroke-width="0.6"/>
<line x1="399.20" y1="176.00" x2="400.50" y2="176.00" stroke="#111" stroke-width="0.6"/>
<text transform="translate(378.00 205.00) rotate(-90)" x="0" y="3.08" font-size="8.6" text-anchor="middle" fill="#222">% CD11b (+) cells</text>
<rect x="404.20" y="230.23" width="12.80" height="6.27" fill="#5c5c5c" stroke="#1a1a1a" stroke-width="0.7"/>
<line x1="410.60" y1="229.79" x2="410.60" y2="230.67" stroke="#111" stroke-width="0.8"/>
<line x1="408.40" y1="229.79" x2="412.80" y2="229.79" stroke="#111" stroke-width="0.8"/>
<line x1="408.40" y1="230.67" x2="412.80" y2="230.67" stroke="#111" stroke-width="0.8"/>
<line x1="410.60" y1="236.50" x2="410.60" y2="238.30" stroke="#111" stroke-width="0.7"/>
<rect x="424.60" y="186.45" width="12.80" height="50.05" fill="#5c5c5c" stroke="#1a1a1a" stroke-width="0.7"/>
<line x1="431.00" y1="183.81" x2="431.00" y2="189.09" stroke="#111" stroke-width="0.8"/>
<line x1="428.80" y1="183.81" x2="433.20" y2="183.81" stroke="#111" stroke-width="0.8"/>
<line x1="428.80" y1="189.09" x2="433.20" y2="189.09" stroke="#111" stroke-width="0.8"/>
<line x1="431.00" y1="236.50" x2="431.00" y2="238.30" stroke="#111" stroke-width="0.7"/>
<text x="431.30" y="246.92" font-size="7.6" text-anchor="middle" fill="#111">6</text>
<rect x="445.10" y="205.70" width="12.80" height="30.80" fill="#5c5c5c" stroke="#1a1a1a" stroke-width="0.7"/>
<line x1="451.50" y1="202.84" x2="451.50" y2="208.56" stroke="#111" stroke-width="0.8"/>
<line x1="449.30" y1="202.84" x2="453.70" y2="202.84" stroke="#111" stroke-width="0.8"/>
<line x1="449.30" y1="208.56" x2="453.70" y2="208.56" stroke="#111" stroke-width="0.8"/>
<line x1="451.50" y1="236.50" x2="451.50" y2="238.30" stroke="#111" stroke-width="0.7"/>
<text x="451.80" y="246.92" font-size="7.6" text-anchor="middle" fill="#111">3</text>
<rect x="465.60" y="219.45" width="12.80" height="17.05" fill="#5c5c5c" stroke="#1a1a1a" stroke-width="0.7"/>
<line x1="472.00" y1="218.13" x2="472.00" y2="220.77" stroke="#111" stroke-width="0.8"/>
<line x1="469.80" y1="218.13" x2="474.20" y2="218.13" stroke="#111" stroke-width="0.8"/>
<line x1="469.80" y1="220.77" x2="474.20" y2="220.77" stroke="#111" stroke-width="0.8"/>
<line x1="472.00" y1="236.50" x2="472.00" y2="238.30" stroke="#111" stroke-width="0.7"/>
<text x="472.30" y="246.92" font-size="7.6" text-anchor="middle" fill="#111">1.5</text>
<text transform="translate(411.60 243.80) rotate(-45)" x="0" y="3.08" font-size="8.6" text-anchor="end" fill="#111">DMSO</text>
<text x="453.80" y="258.58" font-size="8.6" text-anchor="middle" fill="#111">MI-2-2 (µM)</text>
<text x="292.60" y="294.90" font-size="16.8" text-anchor="start" fill="#000" font-weight="bold">H</text>
<line x1="309.50" y1="307.50" x2="309.50" y2="413.70" stroke="#111" stroke-width="1.5"/>
<line x1="308.80" y1="413.00" x2="431.50" y2="413.00" stroke="#111" stroke-width="1.5"/>
<line x1="306.90" y1="406.30" x2="309.50" y2="406.30" stroke="#111" stroke-width="1.0"/>
<text x="306.90" y="409.24" font-size="8.2" text-anchor="end" fill="#111">0</text>
<line x1="306.90" y1="386.65" x2="309.50" y2="386.65" stroke="#111" stroke-width="1.0"/>
<text x="306.90" y="389.59" font-size="8.2" text-anchor="end" fill="#111">10</text>
<line x1="306.90" y1="367.00" x2="309.50" y2="367.00" stroke="#111" stroke-width="1.0"/>
<text x="306.90" y="369.94" font-size="8.2" text-anchor="end" fill="#111">20</text>
<line x1="306.90" y1="347.35" x2="309.50" y2="347.35" stroke="#111" stroke-width="1.0"/>
<text x="306.90" y="350.29" font-size="8.2" text-anchor="end" fill="#111">30</text>
<line x1="306.90" y1="327.70" x2="309.50" y2="327.70" stroke="#111" stroke-width="1.0"/>
<text x="306.90" y="330.64" font-size="8.2" text-anchor="end" fill="#111">40</text>
<line x1="306.90" y1="308.05" x2="309.50" y2="308.05" stroke="#111" stroke-width="1.0"/>
<text x="306.90" y="310.99" font-size="8.2" text-anchor="end" fill="#111">50</text>
<line x1="307.50" y1="396.48" x2="309.50" y2="396.48" stroke="#111" stroke-width="0.9"/>
<line x1="307.50" y1="376.82" x2="309.50" y2="376.82" stroke="#111" stroke-width="0.9"/>
<line x1="307.50" y1="357.18" x2="309.50" y2="357.18" stroke="#111" stroke-width="0.9"/>
<line x1="307.50" y1="337.52" x2="309.50" y2="337.52" stroke="#111" stroke-width="0.9"/>
<line x1="307.50" y1="317.88" x2="309.50" y2="317.88" stroke="#111" stroke-width="0.9"/>
<line x1="318.30" y1="413.00" x2="318.30" y2="416.20" stroke="#111" stroke-width="1.0"/>
<text x="318.30" y="421.38" font-size="8.6" text-anchor="middle" fill="#111">0</text>
<line x1="343.89" y1="413.00" x2="343.89" y2="416.20" stroke="#111" stroke-width="1.0"/>
<text x="343.89" y="421.38" font-size="8.6" text-anchor="middle" fill="#111">3</text>
<line x1="369.48" y1="413.00" x2="369.48" y2="416.20" stroke="#111" stroke-width="1.0"/>
<text x="369.48" y="421.38" font-size="8.6" text-anchor="middle" fill="#111">6</text>
<line x1="395.07" y1="413.00" x2="395.07" y2="416.20" stroke="#111" stroke-width="1.0"/>
<text x="395.07" y="421.38" font-size="8.6" text-anchor="middle" fill="#111">9</text>
<line x1="420.66" y1="413.00" x2="420.66" y2="416.20" stroke="#111" stroke-width="1.0"/>
<text x="420.66" y="421.38" font-size="8.6" text-anchor="middle" fill="#111">12</text>
<line x1="331.10" y1="413.00" x2="331.10" y2="415.00" stroke="#111" stroke-width="0.9"/>
<line x1="356.69" y1="413.00" x2="356.69" y2="415.00" stroke="#111" stroke-width="0.9"/>
<line x1="382.27" y1="413.00" x2="382.27" y2="415.00" stroke="#111" stroke-width="0.9"/>
<line x1="407.87" y1="413.00" x2="407.87" y2="415.00" stroke="#111" stroke-width="0.9"/>
<text x="370.00" y="431.95" font-size="8.8" text-anchor="middle" fill="#111">days</text>
<text transform="translate(291 360) rotate(-90)" x="0" y="3" font-size="8.4" text-anchor="middle" fill="#222">cell number (*10<tspan font-size="5" dy="-3">6</tspan><tspan dy="3">)</tspan></text>
<polyline points="318.30,405.71 343.89,402.37 360.95,391.17 378.01,333.60 379.3,308.05" fill="none" stroke="#adadad" stroke-width="2.0" stroke-linejoin="round"/>
<rect x="316.80" y="404.21" width="3.00" height="3.00" fill="#b8b8b8"/>
<rect x="342.39" y="400.87" width="3.00" height="3.00" fill="#b8b8b8"/>
<rect x="359.45" y="389.67" width="3.00" height="3.00" fill="#b8b8b8"/>
<rect x="376.51" y="332.10" width="3.00" height="3.00" fill="#b8b8b8"/>
<line x1="378.01" y1="330.60" x2="378.01" y2="336.60" stroke="#aaa" stroke-width="1.2"/>
<line x1="378.01" y1="330.60" x2="378.01" y2="330.60" stroke="#aaa" stroke-width="1.2"/>
<line x1="378.01" y1="336.60" x2="378.01" y2="336.60" stroke="#aaa" stroke-width="1.2"/>
<polyline points="318.30,405.71 343.89,403.35 360.95,400.41 378.01,392.55 403.60,371.72 429.19,351.87" fill="none" stroke="#555" stroke-width="1.8" stroke-linejoin="round"/>
<rect x="316.70" y="404.11" width="3.20" height="3.20" fill="#4a4a4a"/>
<rect x="342.29" y="401.75" width="3.20" height="3.20" fill="#4a4a4a"/>
<rect x="359.35" y="398.81" width="3.20" height="3.20" fill="#4a4a4a"/>
<rect x="376.41" y="390.94" width="3.20" height="3.20" fill="#4a4a4a"/>
<rect x="402.00" y="370.12" width="3.20" height="3.20" fill="#4a4a4a"/>
<rect x="427.59" y="350.27" width="3.20" height="3.20" fill="#4a4a4a"/>
<line x1="429.19" y1="346.87" x2="429.19" y2="356.47" stroke="#555" stroke-width="0.9"/>
<line x1="427.59" y1="346.87" x2="430.79" y2="346.87" stroke="#555" stroke-width="0.9"/>
<line x1="427.59" y1="356.47" x2="430.79" y2="356.47" stroke="#555" stroke-width="0.9"/>
<polyline points="318.30,405.71 343.89,403.75 360.95,402.37 378.01,402.37 403.60,400.41 429.19,397.26" fill="none" stroke="#6a6a6a" stroke-width="1.7" stroke-linejoin="round"/>
<path d="M318.30 403.91 L319.95 406.91 L316.65 406.91 Z" fill="#777"/>
<path d="M343.89 401.95 L345.54 404.95 L342.24 404.95 Z" fill="#777"/>
<path d="M360.95 400.57 L362.60 403.57 L359.30 403.57 Z" fill="#777"/>
<path d="M378.01 400.57 L379.66 403.57 L376.36 403.57 Z" fill="#777"/>
<path d="M403.60 398.61 L405.25 401.61 L401.95 401.61 Z" fill="#777"/>
<path d="M429.19 395.46 L430.84 398.46 L427.54 398.46 Z" fill="#777"/>
<line x1="429.19" y1="395.06" x2="429.19" y2="399.26" stroke="#666" stroke-width="0.8"/>
<line x1="427.99" y1="395.06" x2="430.39" y2="395.06" stroke="#666" stroke-width="0.8"/>
<line x1="427.99" y1="399.26" x2="430.39" y2="399.26" stroke="#666" stroke-width="0.8"/>
<line x1="403.60" y1="398.21" x2="403.60" y2="402.41" stroke="#666" stroke-width="0.8"/>
<line x1="402.40" y1="398.21" x2="404.80" y2="398.21" stroke="#666" stroke-width="0.8"/>
<line x1="402.40" y1="402.41" x2="404.80" y2="402.41" stroke="#666" stroke-width="0.8"/>
<polyline points="318.30,405.71 343.89,403.75 360.95,403.16 378.01,402.57 403.60,402.57 429.19,402.96" fill="none" stroke="#0a0a0a" stroke-width="2.2" stroke-linejoin="round"/>
<path d="M318.30 403.55 L320.28 407.15 L316.32 407.15 Z" fill="#000"/>
<path d="M343.89 401.59 L345.87 405.19 L341.91 405.19 Z" fill="#000"/>
<path d="M360.95 401.00 L362.93 404.60 L358.97 404.60 Z" fill="#000"/>
<path d="M378.01 400.41 L379.99 404.01 L376.03 404.01 Z" fill="#000"/>
<path d="M403.60 400.41 L405.58 404.01 L401.62 404.01 Z" fill="#000"/>
<path d="M429.19 400.80 L431.17 404.40 L427.21 404.40 Z" fill="#000"/>
<polyline points="318.30,405.71 343.89,404.34 360.95,404.73 378.01,405.32 403.60,405.71 429.19,405.71" fill="none" stroke="#0a0a0a" stroke-width="2.2" stroke-linejoin="round"/>
<rect x="316.70" y="404.11" width="3.20" height="3.20" fill="#000"/>
<rect x="342.29" y="402.74" width="3.20" height="3.20" fill="#000"/>
<rect x="359.35" y="403.13" width="3.20" height="3.20" fill="#000"/>
<rect x="376.41" y="403.72" width="3.20" height="3.20" fill="#000"/>
<rect x="402.00" y="404.11" width="3.20" height="3.20" fill="#000"/>
<rect x="427.59" y="404.11" width="3.20" height="3.20" fill="#000"/>
<line x1="343.89" y1="401.35" x2="343.89" y2="407.15" stroke="#000" stroke-width="0.9"/>
<line x1="342.59" y1="401.35" x2="345.19" y2="401.35" stroke="#000" stroke-width="0.9"/>
<line x1="342.59" y1="407.15" x2="345.19" y2="407.15" stroke="#000" stroke-width="0.9"/>
<line x1="360.95" y1="400.76" x2="360.95" y2="406.56" stroke="#000" stroke-width="0.9"/>
<line x1="359.65" y1="400.76" x2="362.25" y2="400.76" stroke="#000" stroke-width="0.9"/>
<line x1="359.65" y1="406.56" x2="362.25" y2="406.56" stroke="#000" stroke-width="0.9"/>
<line x1="378.01" y1="400.17" x2="378.01" y2="405.97" stroke="#000" stroke-width="0.9"/>
<line x1="376.71" y1="400.17" x2="379.31" y2="400.17" stroke="#000" stroke-width="0.9"/>
<line x1="376.71" y1="405.97" x2="379.31" y2="405.97" stroke="#000" stroke-width="0.9"/>
<line x1="403.60" y1="400.17" x2="403.60" y2="405.97" stroke="#000" stroke-width="0.9"/>
<line x1="402.30" y1="400.17" x2="404.90" y2="400.17" stroke="#000" stroke-width="0.9"/>
<line x1="402.30" y1="405.97" x2="404.90" y2="405.97" stroke="#000" stroke-width="0.9"/>
<line x1="429.19" y1="400.56" x2="429.19" y2="406.36" stroke="#000" stroke-width="0.9"/>
<line x1="427.89" y1="400.56" x2="430.49" y2="400.56" stroke="#000" stroke-width="0.9"/>
<line x1="427.89" y1="406.36" x2="430.49" y2="406.36" stroke="#000" stroke-width="0.9"/>
<line x1="387.50" y1="307.50" x2="407.50" y2="307.50" stroke="#aaa" stroke-width="1.6"/>
<rect x="396.20" y="306.20" width="2.60" height="2.60" fill="#c8c8c8"/>
<text x="411.80" y="310.68" font-size="8.6" text-anchor="start" fill="#111">DMSO</text>
<line x1="442.60" y1="350.90" x2="463.00" y2="350.90" stroke="#6a6a6a" stroke-width="1.6"/>
<path d="M453.00 349.00 L454.65 352.00 L451.35 352.00 Z" fill="#c4c4c4"/>
<text x="467.20" y="353.66" font-size="7.7" text-anchor="start" fill="#111">MI-2 (6 µM)</text>
<line x1="442.60" y1="388.00" x2="463.00" y2="388.00" stroke="#7a7a7a" stroke-width="1.6"/>
<rect x="451.70" y="386.70" width="2.60" height="2.60" fill="#bbb"/>
<text x="467.20" y="390.76" font-size="7.7" text-anchor="start" fill="#111">MI-2 (12 µM)</text>
<line x1="442.60" y1="400.90" x2="463.00" y2="400.90" stroke="#000" stroke-width="2.3"/>
<rect x="450.40" y="399.55" width="5.20" height="2.70" fill="#fff"/>
<line x1="450.40" y1="400.90" x2="455.60" y2="400.90" stroke="#000" stroke-width="0.8"/>
<path d="M453.00 398.64 L454.98 402.24 L451.02 402.24 Z" fill="#000"/>
<text x="467.20" y="403.66" font-size="7.7" text-anchor="start" fill="#111">MI-2-2 (6 µM)</text>
<line x1="442.60" y1="410.60" x2="463.00" y2="410.60" stroke="#000" stroke-width="2.3"/>
<rect x="450.40" y="409.25" width="5.20" height="2.70" fill="#fff"/>
<line x1="450.40" y1="410.60" x2="455.60" y2="410.60" stroke="#000" stroke-width="0.8"/>
<rect x="451.40" y="409.00" width="3.20" height="3.20" fill="#000"/>
<text x="467.20" y="413.36" font-size="7.7" text-anchor="start" fill="#111">MI-2-2 (12 µM)</text>
<text x="5.60" y="310.00" font-size="16.8" text-anchor="start" fill="#000" font-weight="bold">G</text>
<text x="48.00" y="315.08" font-size="7.2" text-anchor="middle" fill="#111">DMSO</text>
<text x="131.50" y="315.08" font-size="7.2" text-anchor="middle" fill="#111">MI-2-2 (12.5µM)</text>
<text x="223.30" y="313.38" font-size="7.2" text-anchor="middle" fill="#111">MI-2-2 (6.2µM)</text>
<line x1="224.20" y1="405.20" x2="261.00" y2="405.20" stroke="#111" stroke-width="1.2"/>
<text x="242.70" y="413.22" font-size="6.2" text-anchor="middle" fill="#111">25µm</text>
<defs>
<filter id="ctex" x="-5%" y="-5%" width="110%" height="110%" color-interpolation-filters="sRGB">
<feGaussianBlur in="SourceGraphic" stdDeviation="0.45" result="b"/>
<feTurbulence type="fractalNoise" baseFrequency="0.16" numOctaves="3" seed="7" result="n"/>
<feColorMatrix in="n" type="matrix" values="1 0 0 0 0 1 0 0 0 0 1 0 0 0 0 0 0 0 0 1" result="ng"/>
<feComposite in="ng" in2="b" operator="in" result="nc"/>
<feComposite in="b" in2="nc" operator="arithmetic" k1="0" k2="1" k3="0.5" k4="-0.25"/>
</filter>
<filter id="blur1" x="-60%" y="-60%" width="220%" height="220%"><feGaussianBlur stdDeviation="2.2"/></filter>
<filter id="blur2" x="-60%" y="-60%" width="220%" height="220%"><feGaussianBlur stdDeviation="6"/></filter>
<filter id="blur3" x="-60%" y="-60%" width="220%" height="220%"><feGaussianBlur stdDeviation="14"/></filter>
</defs>
<svg x="7.6" y="320.8" width="74" height="74" viewBox="0 0 74 74">
<rect width="74" height="74" fill="#b6b6b6"/>
<g filter="url(#ctex)"><g transform="scale(0.18307) translate(-14 -15)">
<path d="M75.0 110.0 C81.3 101.7 87.5 94.2 100.0 90.0 C112.5 85.8 135.8 83.3 150.0 85.0 C164.2 86.7 175.0 94.2 185.0 100.0 C195.0 105.8 205.0 111.7 210.0 120.0 C215.0 128.3 215.8 139.2 215.0 150.0 C214.2 160.8 208.3 172.5 205.0 185.0 C201.7 197.5 200.0 214.2 195.0 225.0 C190.0 235.8 184.2 248.3 175.0 250.0 C165.8 251.7 151.7 241.7 140.0 235.0 C128.3 228.3 115.8 220.0 105.0 210.0 C94.2 200.0 82.2 186.7 75.0 175.0 C67.8 163.3 62.0 150.8 62.0 140.0 C62.0 129.2 68.7 118.3 75.0 110.0 Z" fill="#606060" stroke="#787878" stroke-width="3"/>
<path d="M225.0 105.0 C229.5 94.2 242.5 72.5 255.0 60.0 C267.5 47.5 284.2 36.3 300.0 30.0 C315.8 23.7 335.8 21.2 350.0 22.0 C364.2 22.8 375.8 27.8 385.0 35.0 C394.2 42.2 400.0 52.5 405.0 65.0 C410.0 77.5 414.2 94.2 415.0 110.0 C415.8 125.8 414.2 145.8 410.0 160.0 C405.8 174.2 399.2 187.5 390.0 195.0 C380.8 202.5 366.7 205.8 355.0 205.0 C343.3 204.2 331.7 197.5 320.0 190.0 C308.3 182.5 296.7 168.3 285.0 160.0 C273.3 151.7 259.5 145.8 250.0 140.0 C240.5 134.2 232.2 130.8 228.0 125.0 C223.8 119.2 220.5 115.8 225.0 105.0 Z" fill="#646464" stroke="#787878" stroke-width="3"/>
<path d="M215.0 185.0 C223.3 175.8 233.3 167.5 245.0 165.0 C256.7 162.5 273.3 165.0 285.0 170.0 C296.7 175.0 306.7 184.2 315.0 195.0 C323.3 205.8 333.3 221.7 335.0 235.0 C336.7 248.3 332.5 265.0 325.0 275.0 C317.5 285.0 302.5 290.8 290.0 295.0 C277.5 299.2 264.2 301.7 250.0 300.0 C235.8 298.3 215.0 291.7 205.0 285.0 C195.0 278.3 191.7 270.8 190.0 260.0 C188.3 249.2 190.8 232.5 195.0 220.0 C199.2 207.5 206.7 194.2 215.0 185.0 Z" fill="#545454" stroke="#787878" stroke-width="3"/>
<path d="M30.0 225.0 C35.5 218.3 45.0 207.5 55.0 205.0 C65.0 202.5 77.5 205.0 90.0 210.0 C102.5 215.0 117.5 226.7 130.0 235.0 C142.5 243.3 156.7 250.8 165.0 260.0 C173.3 269.2 179.2 278.3 180.0 290.0 C180.8 301.7 176.7 318.3 170.0 330.0 C163.3 341.7 151.7 353.3 140.0 360.0 C128.3 366.7 113.3 370.8 100.0 370.0 C86.7 369.2 71.7 363.3 60.0 355.0 C48.3 346.7 37.0 332.5 30.0 320.0 C23.0 307.5 19.3 292.5 18.0 280.0 C16.7 267.5 20.0 254.2 22.0 245.0 C24.0 235.8 24.5 231.7 30.0 225.0 Z" fill="#5c5c5c" stroke="#787878" stroke-width="3"/>
<path d="M185.0 300.0 C191.7 290.8 202.5 293.3 215.0 295.0 C227.5 296.7 246.7 303.3 260.0 310.0 C273.3 316.7 286.7 325.0 295.0 335.0 C303.3 345.0 309.2 358.3 310.0 370.0 C310.8 381.7 306.7 395.8 300.0 405.0 C293.3 414.2 284.2 421.7 270.0 425.0 C255.8 428.3 229.2 430.0 215.0 425.0 C200.8 420.0 191.7 407.5 185.0 395.0 C178.3 382.5 175.0 365.8 175.0 350.0 C175.0 334.2 178.3 309.2 185.0 300.0 Z" fill="#5a5a5a" stroke="#787878" stroke-width="3"/>
<path d="M425.0 225.0 C421.7 209.2 410.0 235.8 405.0 245.0 C400.0 254.2 395.8 268.3 395.0 280.0 C394.2 291.7 395.0 305.0 400.0 315.0 C405.0 325.0 420.8 355.0 425.0 340.0 C429.2 325.0 428.3 240.8 425.0 225.0 Z" fill="#626262" stroke="#787878" stroke-width="3"/>
<path d="M8.0 165.0 C10.3 157.0 18.7 174.2 22.0 180.0 C25.3 185.8 28.0 193.3 28.0 200.0 C28.0 206.7 25.3 215.3 22.0 220.0 C18.7 224.7 10.3 237.2 8.0 228.0 C5.7 218.8 5.7 173.0 8.0 165.0 Z" fill="#5c5c5c" stroke="#787878" stroke-width="3"/>
<path d="M388.0 8.0 C391.3 1.0 418.8 -4.0 425.0 8.0 C431.2 20.0 428.3 73.0 425.0 80.0 C421.7 87.0 411.2 62.0 405.0 50.0 C398.8 38.0 384.7 15.0 388.0 8.0 Z" fill="#525252" stroke="#787878" stroke-width="3"/>
<ellipse cx="140" cy="165" rx="48" ry="45" fill="#505050" filter="url(#blur3)" opacity="0.6"/>
<ellipse cx="320" cy="110" rx="60" ry="55" fill="#585858" filter="url(#blur3)" opacity="0.6"/>
<ellipse cx="260" cy="235" rx="48" ry="42" fill="#404040" filter="url(#blur3)" opacity="0.6"/>
<ellipse cx="95" cy="290" rx="52" ry="52" fill="#4c4c4c" filter="url(#blur3)" opacity="0.6"/>
<ellipse cx="240" cy="365" rx="42" ry="40" fill="#484848" filter="url(#blur3)" opacity="0.6"/>
</g></g>
<g transform="scale(0.18307) translate(-14 -15)" fill="none" stroke="#ebebeb" stroke-width="6" stroke-linecap="round" filter="url(#blur1)">
<path d="M15.0 228.0 C19.2 224.2 27.5 208.8 40.0 205.0 C52.5 201.2 74.2 200.0 90.0 205.0 C105.8 210.0 120.0 225.0 135.0 235.0 C150.0 245.0 170.8 256.3 180.0 265.0 C189.2 273.7 188.3 283.3 190.0 287.0"/>
<path d="M190.0 287.0 C195.0 288.3 206.7 291.2 220.0 295.0 C233.3 298.8 256.7 303.3 270.0 310.0 C283.3 316.7 295.0 330.8 300.0 335.0"/>
<path d="M208.0 125.0 C209.5 132.5 218.0 154.2 217.0 170.0 C216.0 185.8 207.2 204.2 202.0 220.0 C196.8 235.8 188.7 257.5 186.0 265.0"/>
<path d="M225.0 130.0 C230.8 133.3 247.5 142.5 260.0 150.0 C272.5 157.5 288.3 166.7 300.0 175.0 C311.7 183.3 325.0 195.8 330.0 200.0"/>
<path d="M375.0 18.0 C378.3 23.3 388.2 38.3 395.0 50.0 C401.8 61.7 412.5 81.7 416.0 88.0"/>
<path d="M190.0 287.0 C188.3 290.8 182.3 301.2 180.0 310.0 C177.7 318.8 176.7 335.0 176.0 340.0"/>
<ellipse cx="262" cy="172" rx="10" ry="7" fill="#ddd" stroke="none"/>
</g>
</svg>
<svg x="94.8" y="320.8" width="74.4" height="75" viewBox="0 0 74.4 75">
<rect width="74.4" height="75" fill="#aeaeae"/>
<g transform="scale(0.18307) translate(-15 -15)">
<path d="M250 15 C240 50 255 80 235 100 C225 120 215 130 215 150" fill="none" stroke="#727272" stroke-width="34" stroke-linecap="round" filter="url(#blur3)" opacity="0.9"/>
<ellipse cx="248" cy="40" rx="18" ry="25" fill="#848484" filter="url(#blur3)"/>
<ellipse cx="212" cy="122" rx="24" ry="26" fill="#666" filter="url(#blur3)"/>
<ellipse cx="245" cy="85" rx="18" ry="20" fill="#6a6a6a" filter="url(#blur3)"/>
</g>
<g filter="url(#ctex)"><g transform="scale(0.18307) translate(-15 -15)">
<path d="M160.0 165.0 C165.5 157.5 175.8 146.7 185.0 145.0 C194.2 143.3 205.0 156.7 215.0 155.0 C225.0 153.3 235.0 135.8 245.0 135.0 C255.0 134.2 268.3 140.8 275.0 150.0 C281.7 159.2 284.2 177.5 285.0 190.0 C285.8 202.5 285.0 215.0 280.0 225.0 C275.0 235.0 265.8 243.8 255.0 250.0 C244.2 256.2 227.5 262.0 215.0 262.0 C202.5 262.0 189.5 257.0 180.0 250.0 C170.5 243.0 162.7 230.0 158.0 220.0 C153.3 210.0 151.7 199.2 152.0 190.0 C152.3 180.8 154.5 172.5 160.0 165.0 Z" fill="#9a9a9a" stroke="#666" stroke-width="4"/>
<path d="M160.0 165.0 C165.5 158.3 175.8 146.7 185.0 145.0 C194.2 143.3 205.0 156.7 215.0 155.0 C225.0 153.3 235.0 135.8 245.0 135.0 C255.0 134.2 268.7 141.7 275.0 150.0 C281.3 158.3 285.2 176.7 283.0 185.0 C280.8 193.3 269.2 198.3 262.0 200.0 C254.8 201.7 246.2 192.5 240.0 195.0 C233.8 197.5 231.7 213.3 225.0 215.0 C218.3 216.7 207.5 205.0 200.0 205.0 C192.5 205.0 187.0 215.0 180.0 215.0 C173.0 215.0 162.7 210.0 158.0 205.0 C153.3 200.0 151.7 191.7 152.0 185.0 C152.3 178.3 154.5 171.7 160.0 165.0 Z" fill="#444"/>
<ellipse cx="225" cy="232" rx="30" ry="16" fill="#c4c4c4" filter="url(#blur2)"/>
</g></g>
</svg>
<svg x="187.7" y="321.1" width="74" height="75" viewBox="0 0 74 75">
<rect width="74" height="75" fill="#bdbdbd"/>
<g transform="scale(0.18307) translate(-20 -28)">
<ellipse cx="60" cy="230" rx="60" ry="70" fill="#cdcdcd" filter="url(#blur3)"/>
<ellipse cx="395" cy="110" rx="60" ry="90" fill="#a9a9a9" filter="url(#blur3)"/>
<ellipse cx="300" cy="125" rx="70" ry="65" fill="#8e8e8e" filter="url(#blur3)"/>
</g>
<g filter="url(#ctex)"><g transform="scale(0.18307) translate(-20 -28)">
<path d="M10.0 20.0 C18.3 0.0 47.5 13.3 60.0 20.0 C72.5 26.7 80.8 45.8 85.0 60.0 C89.2 74.2 89.2 92.5 85.0 105.0 C80.8 117.5 72.5 129.2 60.0 135.0 C47.5 140.8 18.3 159.2 10.0 140.0 C1.7 120.8 1.7 40.0 10.0 20.0 Z" fill="#606060" stroke="#8a8a8a" stroke-width="3"/>
<path d="M75.0 20.0 C98.3 13.3 200.8 13.3 225.0 20.0 C249.2 26.7 225.8 49.2 220.0 60.0 C214.2 70.8 203.3 78.3 190.0 85.0 C176.7 91.7 155.0 97.5 140.0 100.0 C125.0 102.5 109.2 106.7 100.0 100.0 C90.8 93.3 89.2 73.3 85.0 60.0 C80.8 46.7 51.7 26.7 75.0 20.0 Z" fill="#585858" stroke="#8a8a8a" stroke-width="3"/>
<path d="M75.0 150.0 C78.3 135.8 87.5 124.2 100.0 115.0 C112.5 105.8 133.3 98.3 150.0 95.0 C166.7 91.7 185.8 90.0 200.0 95.0 C214.2 100.0 227.0 112.5 235.0 125.0 C243.0 137.5 247.2 155.8 248.0 170.0 C248.8 184.2 247.2 198.3 240.0 210.0 C232.8 221.7 218.3 233.3 205.0 240.0 C191.7 246.7 175.8 250.8 160.0 250.0 C144.2 249.2 123.3 243.3 110.0 235.0 C96.7 226.7 85.8 214.2 80.0 200.0 C74.2 185.8 71.7 164.2 75.0 150.0 Z" fill="#646464" stroke="#8a8a8a" stroke-width="3"/>
<path d="M238.0 105.0 C241.2 93.7 250.0 78.8 262.0 72.0 C274.0 65.2 295.3 61.0 310.0 64.0 C324.7 67.0 341.0 78.2 350.0 90.0 C359.0 101.8 364.8 120.8 364.0 135.0 C363.2 149.2 355.7 165.8 345.0 175.0 C334.3 184.2 314.5 190.5 300.0 190.0 C285.5 189.5 267.5 180.3 258.0 172.0 C248.5 163.7 246.3 151.2 243.0 140.0 C239.7 128.8 234.8 116.3 238.0 105.0 Z" fill="#787878" stroke="#8a8a8a" stroke-width="3"/>
<path d="M200.0 255.0 C200.8 240.8 210.0 228.8 220.0 220.0 C230.0 211.2 246.7 202.8 260.0 202.0 C273.3 201.2 290.8 207.0 300.0 215.0 C309.2 223.0 312.5 236.7 315.0 250.0 C317.5 263.3 319.2 282.5 315.0 295.0 C310.8 307.5 300.8 319.2 290.0 325.0 C279.2 330.8 262.5 333.3 250.0 330.0 C237.5 326.7 223.3 317.5 215.0 305.0 C206.7 292.5 199.2 269.2 200.0 255.0 Z" fill="#666666" stroke="#8a8a8a" stroke-width="3"/>
<path d="M315.0 225.0 C319.2 209.2 328.3 204.5 340.0 200.0 C351.7 195.5 372.5 193.8 385.0 198.0 C397.5 202.2 408.8 213.0 415.0 225.0 C421.2 237.0 422.8 254.2 422.0 270.0 C421.2 285.8 417.0 305.8 410.0 320.0 C403.0 334.2 392.5 347.5 380.0 355.0 C367.5 362.5 347.5 367.5 335.0 365.0 C322.5 362.5 308.3 351.7 305.0 340.0 C301.7 328.3 313.3 314.2 315.0 295.0 C316.7 275.8 310.8 240.8 315.0 225.0 Z" fill="#626262" stroke="#8a8a8a" stroke-width="3"/>
<path d="M35.0 330.0 C40.0 318.3 47.5 307.5 60.0 300.0 C72.5 292.5 93.3 285.0 110.0 285.0 C126.7 285.0 147.0 290.8 160.0 300.0 C173.0 309.2 183.0 325.8 188.0 340.0 C193.0 354.2 194.7 372.5 190.0 385.0 C185.3 397.5 175.0 409.2 160.0 415.0 C145.0 420.8 118.3 421.7 100.0 420.0 C81.7 418.3 61.7 413.3 50.0 405.0 C38.3 396.7 32.5 382.5 30.0 370.0 C27.5 357.5 30.0 341.7 35.0 330.0 Z" fill="#808080" stroke="#8a8a8a" stroke-width="3"/>
<path d="M215.0 410.0 C221.7 400.8 238.3 395.0 250.0 395.0 C261.7 395.0 278.3 400.8 285.0 410.0 C291.7 419.2 302.5 443.3 290.0 450.0 C277.5 456.7 222.5 456.7 210.0 450.0 C197.5 443.3 208.3 419.2 215.0 410.0 Z" fill="#555" stroke="#8a8a8a" stroke-width="3"/>
<ellipse cx="160" cy="180" rx="55" ry="50" fill="#3c3c3c" filter="url(#blur3)" opacity="0.8"/>
<ellipse cx="260" cy="275" rx="38" ry="38" fill="#424242" filter="url(#blur3)" opacity="0.8"/>
<ellipse cx="365" cy="280" rx="36" ry="55" fill="#404040" filter="url(#blur3)" opacity="0.8"/>
<ellipse cx="100" cy="360" rx="50" ry="42" fill="#606060" filter="url(#blur3)" opacity="0.8"/>
<ellipse cx="150" cy="50" rx="55" ry="25" fill="#444" filter="url(#blur3)" opacity="0.8"/>
<ellipse cx="40" cy="80" rx="30" ry="40" fill="#4a4a4a" filter="url(#blur3)" opacity="0.8"/>
</g></g>
<g transform="scale(0.18307) translate(-20 -28)" fill="none" stroke="#e4e4e4" stroke-width="5" stroke-linecap="round" filter="url(#blur1)">
<path d="M62.0 22.0 C65.8 28.3 80.7 46.2 85.0 60.0 C89.3 73.8 87.5 97.5 88.0 105.0"/>
<path d="M88.0 125.0 C91.7 122.2 99.7 113.3 110.0 108.0 C120.3 102.7 135.0 96.0 150.0 93.0 C165.0 90.0 188.0 94.7 200.0 90.0 C212.0 85.3 216.2 75.8 222.0 65.0 C227.8 54.2 232.8 31.7 235.0 25.0"/>
<path d="M222.0 90.0 C225.0 95.8 235.3 111.7 240.0 125.0 C244.7 138.3 249.7 157.5 250.0 170.0 C250.3 182.5 243.3 195.0 242.0 200.0"/>
<path d="M205.0 245.0 C207.8 240.5 212.8 225.5 222.0 218.0 C231.2 210.5 247.0 201.0 260.0 200.0 C273.0 199.0 290.8 206.2 300.0 212.0 C309.2 217.8 312.5 231.2 315.0 235.0"/>
<path d="M315.0 235.0 C319.2 229.2 328.3 206.7 340.0 200.0 C351.7 193.3 372.5 191.7 385.0 195.0 C397.5 198.3 410.0 215.8 415.0 220.0"/>
<path d="M315.0 235.0 C315.5 244.2 317.5 280.8 318.0 290.0"/>
</g>
</svg>
</svg>
</body></html>
